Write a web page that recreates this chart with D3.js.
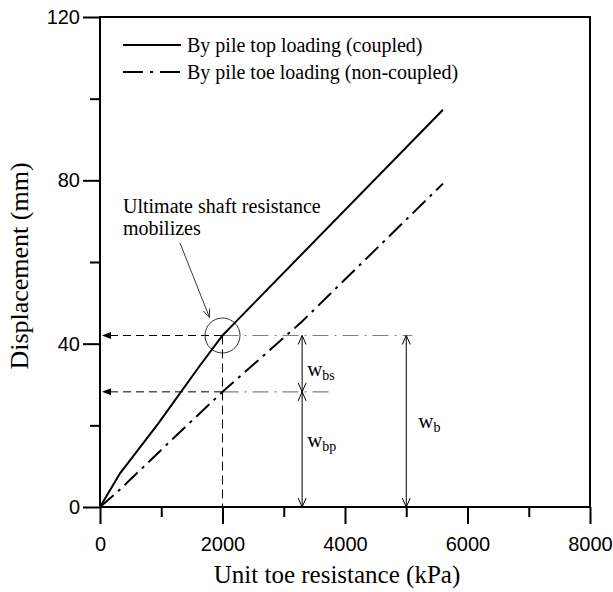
<!DOCTYPE html>
<html>
<head>
<meta charset="utf-8">
<script src="https://cdn.jsdelivr.net/npm/d3@7"></script>
<style>
  html, body { margin: 0; padding: 0; background: #fff; }
  svg { display: block; }
  .tick-label { font-family: "Liberation Sans", Arial, sans-serif; font-size: 20px; fill: #000; }
  .serif { font-family: "Liberation Serif", "Times New Roman", serif; fill: #000; }
</style>
</head>
<body>
<svg id="chart" width="613" height="592"></svg>
<script>
// Axis ticks
const xMajorTicks = [0, 2000, 4000, 6000, 8000];
const xMinorTicks = [1000, 3000, 5000, 7000];
const yMajorTicks = [0, 40, 80, 120];
const yMinorTicks = [20, 60, 100];

// Pile top loading (coupled): unit toe resistance (kPa) vs displacement (mm)
const coupledX = [0, 330, 950, 1620, 2000, 2200, 5600];
const coupledY = [0, 8.3, 20.4, 34.4, 42, 45.1, 97.3];

// Pile toe loading (non-coupled)
const toeX = [0, 320, 1224, 2000, 3290, 5600];
const toeY = [0, 4.2, 17.2, 28.2, 45.3, 79.2];

// Reference values used by the annotations
const shaftMobilizedQ = 2000;   // kPa, ultimate shaft resistance mobilized
const wTotal = 42;              // mm, w_b  (coupled displacement at that load)
const wToe = 28.2;              // mm, w_bp (non-coupled displacement at that load)
const wArrowQ = 3300;           // kPa, where w_bs / w_bp are dimensioned
const wbArrowQ = 5000;          // kPa, where w_b is dimensioned
const upperGuideEnd = 5100;     // kPa
const lowerGuideEnd = 3750;     // kPa

const legendLabels = ["By pile top loading (coupled)", "By pile toe loading (non-coupled)"];
const noteLines = ["Ultimate shaft resistance", "mobilizes"];

const svg = d3.select("#chart");
const x = d3.scaleLinear().domain([0, 8000]).range([100, 590]);
const y = d3.scaleLinear().domain([0, 120]).range([507, 17]);

const line = d3.line().x(d => x(d[0])).y(d => y(d[1]));

// ---------- reference guides ----------
const g = svg.append("g");

// black dashed guides from the axis to the mobilization load
[wTotal, wToe].forEach(v => {
  g.append("line")
    .attr("x1", x(0) + 10).attr("x2", x(shaftMobilizedQ))
    .attr("y1", y(v)).attr("y2", y(v))
    .attr("stroke", "#000").attr("stroke-width", 1).attr("stroke-dasharray", "8,5");
  // filled arrowhead pointing at the displacement axis
  const tipX = x(0) + 2, yy = y(v);
  g.append("path")
    .attr("d", `M${tipX},${yy} L${tipX + 9},${yy - 3.5} L${tipX + 9},${yy + 3.5} Z`)
    .attr("fill", "#000");
});

// grey dash-dot continuation
[[wTotal, upperGuideEnd], [wToe, lowerGuideEnd]].forEach(([v, end]) => {
  g.append("line")
    .attr("x1", x(shaftMobilizedQ)).attr("x2", x(end))
    .attr("y1", y(v)).attr("y2", y(v))
    .attr("stroke", "#808080").attr("stroke-width", 1.2).attr("stroke-dasharray", "16,6,2,6");
});

// vertical dashed guide at the mobilization load
g.append("line")
  .attr("x1", x(shaftMobilizedQ)).attr("x2", x(shaftMobilizedQ))
  .attr("y1", y(wTotal)).attr("y2", y(0))
  .attr("stroke", "#000").attr("stroke-width", 1).attr("stroke-dasharray", "9,5");

// circle marking the mobilization point
g.append("circle")
  .attr("cx", x(shaftMobilizedQ)).attr("cy", y(wTotal)).attr("r", 17.5)
  .attr("fill", "none").attr("stroke", "#333").attr("stroke-width", 1);

// ---------- curves ----------
svg.append("path")
  .datum(d3.zip(coupledX, coupledY))
  .attr("d", line)
  .attr("fill", "none").attr("stroke", "#000").attr("stroke-width", 2);

svg.append("path")
  .datum(d3.zip(toeX, toeY))
  .attr("d", line)
  .attr("fill", "none").attr("stroke", "#000").attr("stroke-width", 2)
  .attr("stroke-dasharray", "18,6,3,6");

// ---------- dimension arrows ----------
function openHead(px, py, dir) {
  // dir = -1 points up, +1 points down
  return `M${px - 4},${py - dir * 9} L${px},${py} L${px + 4},${py - dir * 9}`;
}
function dimArrow(q, v0, v1) {
  const px = x(q), yTop = y(v1), yBot = y(v0);
  g.append("line").attr("x1", px).attr("x2", px).attr("y1", yTop).attr("y2", yBot)
    .attr("stroke", "#000").attr("stroke-width", 1);
  g.append("path").attr("d", openHead(px, yTop, -1)).attr("fill", "none").attr("stroke", "#000").attr("stroke-width", 1);
  g.append("path").attr("d", openHead(px, yBot, 1)).attr("fill", "none").attr("stroke", "#000").attr("stroke-width", 1);
}
dimArrow(wArrowQ, wToe, wTotal);
dimArrow(wArrowQ, 0, wToe);
dimArrow(wbArrowQ, 0, wTotal);

function wLabel(px, py, sub) {
  const t = svg.append("text").attr("class", "serif").attr("x", px).attr("y", py).attr("font-size", 21);
  t.append("tspan").text("w");
  t.append("tspan").attr("dy", 4).attr("font-size", 14).text(sub);
}
wLabel(x(wArrowQ) + 5, (y(wTotal) + y(wToe)) / 2 + 12, "bs");
wLabel(x(wArrowQ) + 5, (y(wToe) + y(0)) / 2 - 2, "bp");
wLabel(x(wbArrowQ) + 12, (y(wTotal) + y(0)) / 2 + 7, "b");

// ---------- note with pointer ----------
noteLines.forEach((s, i) => {
  svg.append("text").attr("class", "serif").attr("font-size", 20)
    .attr("x", 123).attr("y", 213 + i * 22).text(s);
});
{
  const cx = x(shaftMobilizedQ), cy = y(wTotal);
  const tx = cx - 13, ty = cy - 18;
  const sx = 180, sy = 243;
  const ang = Math.atan2(ty - sy, tx - sx);
  g.append("line").attr("x1", sx).attr("y1", sy).attr("x2", tx).attr("y2", ty)
    .attr("stroke", "#222").attr("stroke-width", 0.9);
  const hl = 9, ha = 0.38;
  g.append("path")
    .attr("d", `M${tx - hl * Math.cos(ang - ha)},${ty - hl * Math.sin(ang - ha)} L${tx},${ty} L${tx - hl * Math.cos(ang + ha)},${ty - hl * Math.sin(ang + ha)}`)
    .attr("fill", "none").attr("stroke", "#222").attr("stroke-width", 0.9);
}

// ---------- frame and axes ----------
svg.append("rect")
  .attr("x", x(0)).attr("y", y(120))
  .attr("width", x(8000) - x(0)).attr("height", y(0) - y(120))
  .attr("fill", "none").attr("stroke", "#000").attr("stroke-width", 2);

const plain = d3.format("d");
const xAxis = svg.append("g").attr("transform", `translate(0,${y(0)})`)
  .call(d3.axisBottom(x).tickValues(xMajorTicks).tickFormat(plain).tickSizeInner(17).tickSizeOuter(0).tickPadding(13));
const xMinorAxis = svg.append("g").attr("transform", `translate(0,${y(0)})`)
  .call(d3.axisBottom(x).tickValues(xMinorTicks).tickSizeInner(10).tickSizeOuter(0).tickFormat(""));
const yAxis = svg.append("g").attr("transform", `translate(${x(0)},0)`)
  .call(d3.axisLeft(y).tickValues(yMajorTicks).tickFormat(plain).tickSizeInner(17).tickSizeOuter(0).tickPadding(3));
const yMinorAxis = svg.append("g").attr("transform", `translate(${x(0)},0)`)
  .call(d3.axisLeft(y).tickValues(yMinorTicks).tickSizeInner(10).tickSizeOuter(0).tickFormat(""));

[xAxis, xMinorAxis, yAxis, yMinorAxis].forEach(a => {
  a.select(".domain").remove();
  a.selectAll(".tick line").attr("stroke", "#000").attr("stroke-width", 2);
  a.selectAll(".tick text").attr("class", "tick-label").attr("font-family", null).attr("font-size", null).attr("fill", "#000");
});

// axis titles
svg.append("text").attr("class", "serif").attr("font-size", 25)
  .attr("text-anchor", "middle").attr("x", 337).attr("y", 583)
  .text("Unit toe resistance (kPa)");
svg.append("text").attr("class", "serif").attr("font-size", 26)
  .attr("text-anchor", "middle")
  .attr("transform", "translate(28,266) rotate(-90)")
  .text("Displacement (mm)");

// ---------- legend ----------
const legendStyles = [null, "20,7,3,7"];
legendLabels.forEach((lab, i) => {
  const ly = 45 + i * 27;
  const l = svg.append("line").attr("x1", 123).attr("x2", 181).attr("y1", ly).attr("y2", ly)
    .attr("stroke", "#000").attr("stroke-width", 2);
  if (legendStyles[i]) l.attr("stroke-dasharray", legendStyles[i]);
  svg.append("text").attr("class", "serif").attr("font-size", 20)
    .attr("x", 187).attr("y", ly + 7).text(lab);
});
</script>
</body>
</html>
